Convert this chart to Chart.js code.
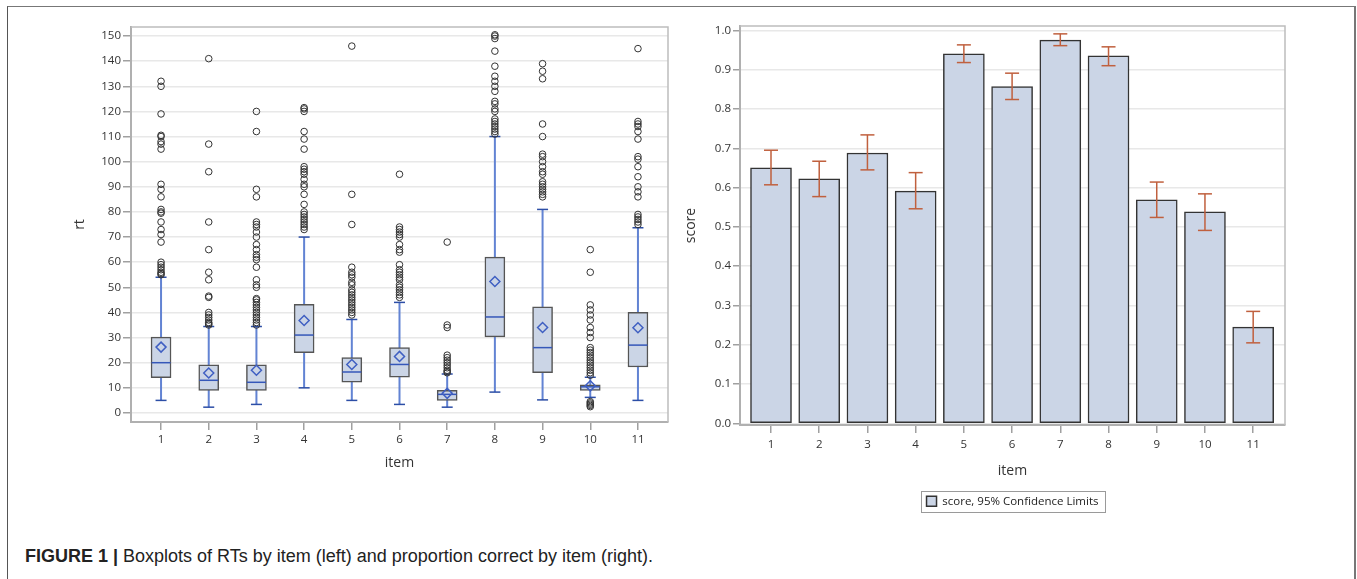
<!DOCTYPE html>
<html>
<head>
<meta charset="utf-8">
<script src="https://cdn.jsdelivr.net/npm/chart.js@4.4.1/dist/chart.umd.min.js"></script>
<style>
body { margin: 0; background: #fff; width: 1357px; height: 579px; overflow: hidden; position: relative; }
#frame { position: absolute; left: 7px; top: 6px; width: 1346px; height: 620px; border-left: 1px solid #555; border-top: 1px solid #777; border-right: 2px solid #777; }
#boxChart { position: absolute; left: 40px; top: 16px; }
#barChart { position: absolute; left: 670px; top: 16px; }
#caption { position: absolute; left: 25px; top: 546px; font-family: 'Liberation Sans', Arial, sans-serif; font-size: 18px; color: #222; white-space: nowrap; }
</style>
</head>
<body>
<div id="frame"></div>
<canvas id="boxChart" width="640" height="470"></canvas>
<canvas id="barChart" width="680" height="504"></canvas>
<div id="caption"><b>FIGURE 1 |</b> Boxplots of RTs by item (left) and proportion correct by item (right).</div>
<script>
// data
var items = [1, 2, 3, 4, 5, 6, 7, 8, 9, 10, 11];

var whiskerLow  = [5, 2.3, 3.4, 10, 5, 3.4, 2.3, 8.3, 5.2, 6.2, 5];
var q1          = [14, 9, 9, 24, 12.3, 14.2, 5, 30.3, 16, 9, 18.3];
var median      = [20, 13, 12.2, 31, 16.3, 19.3, 7.4, 38.2, 26, 10.4, 27];
var q3          = [30.2, 19.2, 19.2, 43.2, 22, 26, 9, 62, 42.2, 11.2, 40];
var whiskerHigh = [54, 34.4, 34.4, 70, 37.2, 44, 15.5, 110, 81, 14.2, 73.7];
var meanRt      = [26.2, 15.9, 17, 36.8, 19.3, 22.5, 7.8, 52.3, 34, 10.8, 33.9];

var outliers = [
    [55, 55.5, 56, 57, 58, 59, 60, 68, 71, 73, 76, 79.5, 80, 81, 86, 89, 91, 105, 107, 108, 110, 110.5, 119, 130, 132],
    [35, 35.5, 36, 37, 38, 39, 40, 46, 46.5, 53, 56, 65, 76, 96, 107, 141],
    [35, 36, 37, 38, 39, 40, 41, 42, 43, 44, 45, 45.5, 50, 51, 53, 58, 61, 62, 63, 65, 67, 70, 72, 74, 75, 76, 86, 89, 112, 120],
    [73, 74, 75, 76, 77, 78, 79, 80, 83, 87, 90, 91, 93, 95, 96, 97, 98, 105, 109, 112, 120, 121, 121.5],
    [39, 40, 41, 42, 43, 44, 45, 46, 47, 48, 49, 51, 52, 54, 55, 56, 58, 75, 87, 146],
    [46, 47, 48, 49, 50, 51, 53, 54, 55, 56, 57, 59, 64, 65, 67, 70, 71, 72, 73, 74, 95],
    [16, 16.5, 17, 18, 19, 20, 21, 22, 23, 34, 35, 68],
    [111, 112, 113, 114, 115, 116, 117, 120, 121, 123, 124, 128, 130, 132, 134, 138, 144, 149, 150, 150.5],
    [86, 87, 88, 89, 90, 91, 92, 95, 96, 98, 100, 102, 103, 110, 115, 133, 136, 139],
    [2.5, 3, 3.5, 4, 4.5, 15, 16, 17, 18, 19, 20, 21, 22, 23, 24, 25, 26, 30, 32, 34, 37, 39, 41, 43, 56, 65],
    [75, 76, 77, 78, 79, 86, 88, 90, 94, 98, 101, 102, 109, 112, 114, 115, 116, 145]
];

var score   = [0.650, 0.622, 0.688, 0.591, 0.940, 0.857, 0.975, 0.935, 0.569, 0.538, 0.245];
var ciLower = [0.607, 0.577, 0.645, 0.546, 0.918, 0.824, 0.961, 0.910, 0.524, 0.491, 0.205];
var ciUpper = [0.695, 0.667, 0.734, 0.638, 0.963, 0.891, 0.991, 0.958, 0.614, 0.584, 0.285];

Chart.defaults.font.family = "'Open Sans', 'Noto Sans', sans-serif";
Chart.defaults.color = '#333';

var tickFont = { size: 11.5 };
var titleFont = { size: 14 };

// vertical segments from low to high, broken by gaps
function segments(low, high) {
    var pts = [];
    items.forEach(function(it, i) {
        pts.push({x: it, y: low[i]}, {x: it, y: high[i]}, {x: it, y: null});
    });
    return pts;
}

function points(values) {
    return items.map(function(it, i) { return {x: it, y: values[i]}; });
}

// top and right edges of the plot area
var plotFrame = {
    id: 'plotFrame',
    afterDraw: function(chart) {
        var a = chart.chartArea, c = chart.ctx;
        c.save();
        c.strokeStyle = '#bdbdbd';
        c.lineWidth = 1.5;
        c.beginPath();
        c.moveTo(a.left, a.top);
        c.lineTo(a.right, a.top);
        c.lineTo(a.right, a.bottom);
        c.stroke();
        c.restore();
    }
};

// box drawn round the legend entry
var legendFrame = {
    id: 'legendFrame',
    afterDraw: function(chart) {
        var lg = chart.legend;
        if (!lg || !lg.legendHitBoxes || !lg.legendHitBoxes.length) return;
        var hb = lg.legendHitBoxes[0], c = chart.ctx;
        c.save();
        c.strokeStyle = '#9a9a9a';
        c.lineWidth = 1;
        c.strokeRect(Math.round(hb.left - 6) + 0.5, Math.round(hb.top - 5) + 0.5, Math.round(hb.width + 12), Math.round(hb.height + 9));
        c.restore();
    }
};

function xAxis(min, max, labelPad, titlePad, height) {
    return {
        type: 'linear',
        min: min,
        max: max,
        offset: false,
        ticks: { stepSize: 1, includeBounds: false, font: tickFont, color: '#333', padding: labelPad },
        grid: { offset: false, drawOnChartArea: false, drawTicks: true, tickLength: 8, tickColor: '#a0a0a0', lineWidth: 1.5 },
        border: { color: '#b0b0b0', width: 2 },
        title: { display: true, text: 'item', font: titleFont, color: '#333', padding: { top: 2, bottom: titlePad } },
        afterFit: function(s) { s.height = height; }
    };
}

// Boxplot

var ctx = document.getElementById('boxChart').getContext('2d');
var boxChart = new Chart(ctx, {
    type: 'bar',
    data: {
        datasets: [{
            type: 'scatter',
            label: 'outliers',
            data: items.flatMap(function(it, i) { return outliers[i].map(function(v) { return {x: it, y: v}; }); }),
            pointStyle: 'circle',
            pointRadius: 3.3,
            pointBorderWidth: 1,
            pointBorderColor: '#333',
            pointBackgroundColor: 'rgba(0,0,0,0)',
            order: 0
        }, {
            type: 'scatter',
            label: 'mean',
            data: points(meanRt),
            pointStyle: 'rectRot',
            pointRadius: 5,
            pointBorderWidth: 1.5,
            pointBorderColor: '#3f5fc2',
            pointBackgroundColor: 'rgba(0,0,0,0)',
            order: 1
        }, {
            type: 'scatter',
            label: 'median',
            data: points(median),
            pointStyle: 'line',
            pointRadius: 9.5,
            pointBorderWidth: 1.5,
            pointBorderColor: '#3557b9',
            order: 2
        }, {
            type: 'scatter',
            label: 'caps',
            data: points(whiskerLow).concat(points(whiskerHigh)),
            pointStyle: 'line',
            pointRadius: 5.5,
            pointBorderWidth: 1.5,
            pointBorderColor: '#2c4ea6',
            order: 3
        }, {
            label: 'box',
            data: items.map(function(it, i) { return {x: it, y: [q1[i], q3[i]]}; }),
            backgroundColor: '#cbd5e6',
            borderColor: '#555',
            borderWidth: 1.5,
            borderSkipped: false,
            barThickness: 20,
            order: 5
        }, {
            type: 'line',
            label: 'whisker',
            data: segments(whiskerLow, whiskerHigh),
            borderColor: '#6283d3',
            borderWidth: 2,
            pointRadius: 0,
            spanGaps: false,
            fill: false,
            order: 6
        }]
    },
    options: {
        responsive: false,
        animation: false,
        events: [],
        layout: { padding: { top: 10, right: 12, bottom: 0, left: 0 } },
        plugins: { legend: { display: false }, tooltip: { enabled: false } },
        scales: {
            x: xAxis(0.37, 11.63, 3, 14.6, 64),
            y: {
                min: -3.6,
                max: 153.6,
                ticks: { stepSize: 10, includeBounds: false, font: tickFont, color: '#333', padding: 2 },
                grid: { color: '#e8e8e8', lineWidth: 1.5, tickLength: 8, tickColor: '#a0a0a0' },
                border: { color: '#b0b0b0', width: 2 },
                title: { display: true, text: 'rt', font: titleFont, color: '#333', padding: { top: 31.6, bottom: 0 } },
                afterFit: function(s) { s.width = 91; }
            }
        }
    },
    plugins: [plotFrame]
});

// Bar chart with confidence limits

var ctx2 = document.getElementById('barChart').getContext('2d');
var barChart = new Chart(ctx2, {
    type: 'bar',
    data: {
        datasets: [{
            type: 'scatter',
            label: 'limits',
            data: points(ciLower).concat(points(ciUpper)),
            pointStyle: 'line',
            pointRadius: 7,
            pointBorderWidth: 1.5,
            pointBorderColor: '#c0603e',
            order: 0
        }, {
            type: 'line',
            label: 'ci',
            data: segments(ciLower, ciUpper),
            borderColor: '#c0603e',
            borderWidth: 1.5,
            pointRadius: 0,
            spanGaps: false,
            fill: false,
            order: 1
        }, {
            label: 'score, 95% Confidence Limits',
            data: points(score),
            backgroundColor: '#cbd5e6',
            borderColor: '#333',
            borderWidth: 1.5,
            borderSkipped: false,
            barThickness: 41,
            order: 2
        }]
    },
    options: {
        responsive: false,
        animation: false,
        events: [],
        layout: { padding: { top: 10, right: 65, bottom: 3, left: 0 } },
        plugins: {
            tooltip: { enabled: false },
            legend: {
                position: 'bottom',
                fullSize: false,
                labels: {
                    filter: function(item) { return item.text === 'score, 95% Confidence Limits'; },
                    boxWidth: 10,
                    boxHeight: 10,
                    padding: 10,
                    color: '#222',
                    font: { size: 11.5 }
                }
            }
        },
        scales: {
            x: xAxis(0.357, 11.66, 5, 6.1, 60.5),
            y: {
                min: -0.004,
                max: 1.011,
                ticks: {
                    stepSize: 0.1, includeBounds: false, font: tickFont, color: '#333', padding: 2,
                    callback: function(v) { return v.toFixed(1); }
                },
                grid: { color: '#e8e8e8', lineWidth: 1.5, tickLength: 7, tickColor: '#a0a0a0' },
                border: { color: '#b0b0b0', width: 2 },
                title: { display: true, text: 'score', font: titleFont, color: '#333', padding: { top: 12.6, bottom: 0 } },
                afterFit: function(s) { s.width = 70; }
            }
        }
    },
    plugins: [plotFrame, legendFrame]
});
</script>
</body>
</html>
